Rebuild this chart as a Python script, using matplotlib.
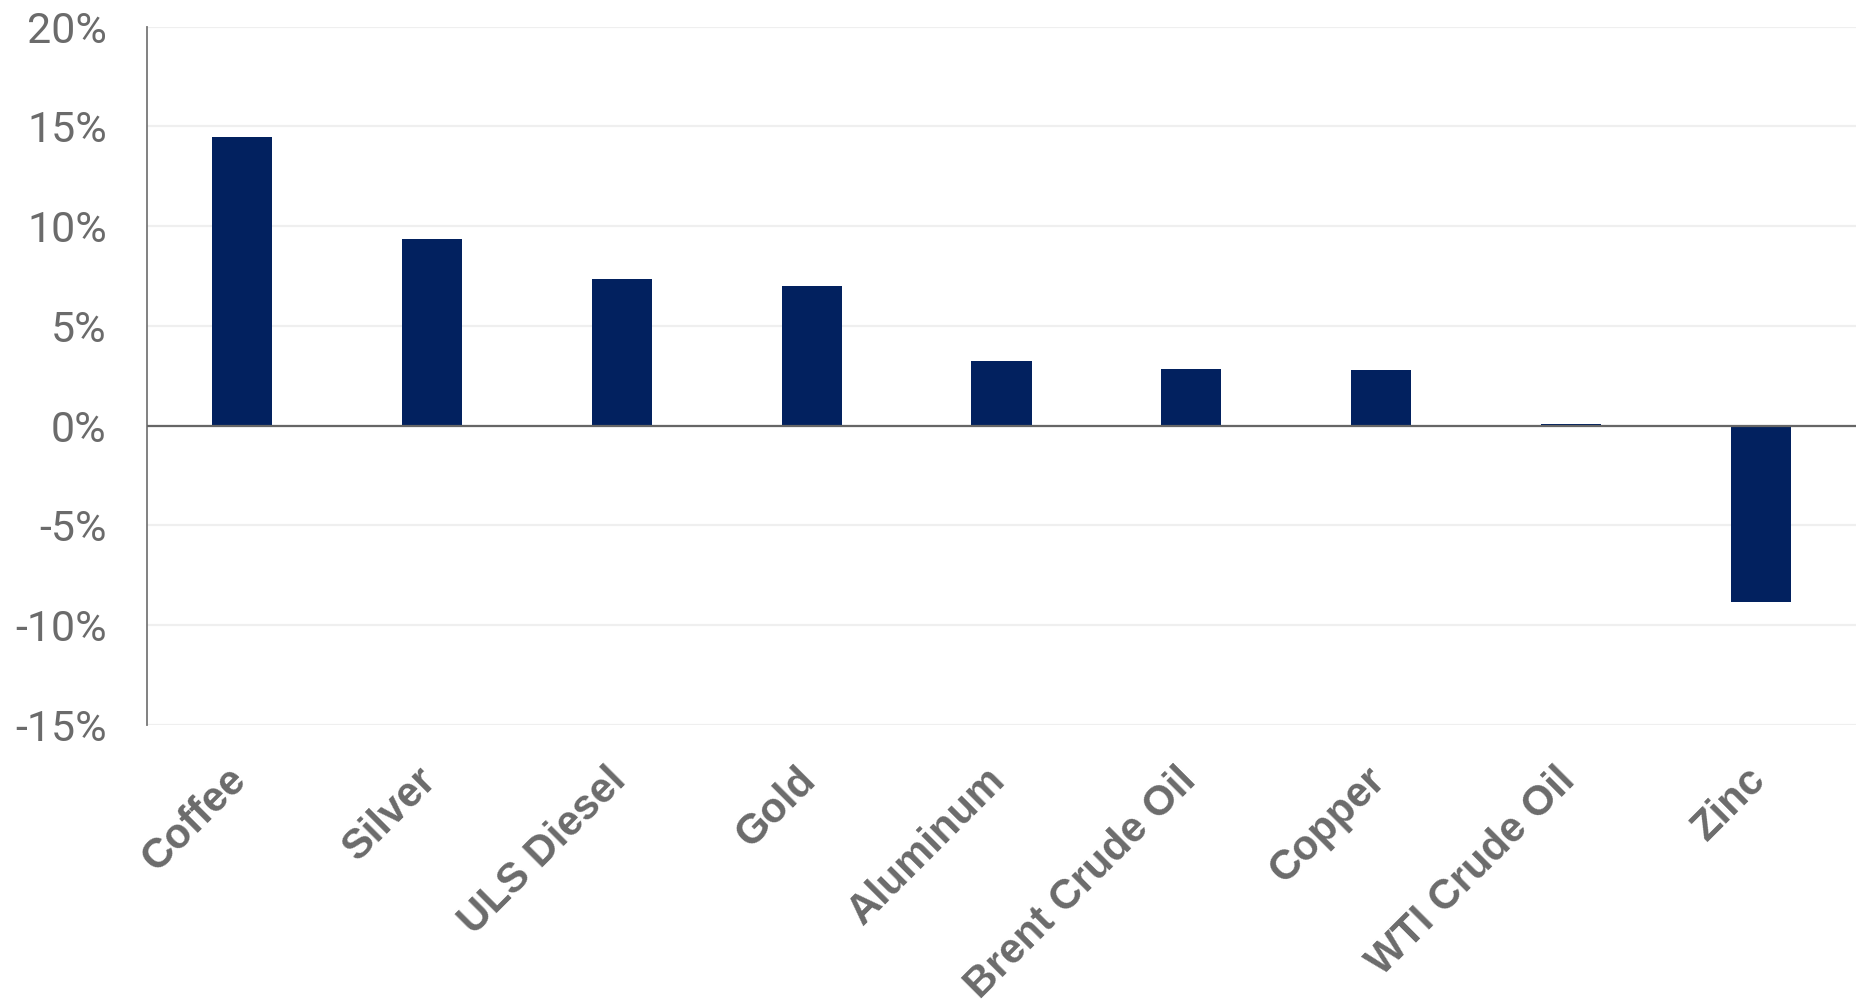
import matplotlib
matplotlib.use("Agg")
import matplotlib.pyplot as plt
from matplotlib.ticker import FuncFormatter
from matplotlib.transforms import ScaledTranslation

categories = ["Coffee", "Silver", "ULS Diesel", "Gold", "Aluminum",
              "Brent Crude Oil", "Copper", "WTI Crude Oil", "Zinc"]
values = [14.45, 9.34, 7.34, 6.99, 3.24, 2.86, 2.79, 0.07, -8.85]
y_ticks = [-15, -10, -5, 0, 5, 10, 15, 20]

W, H = 1864, 1002
fig = plt.figure(figsize=(W / 100, H / 100), dpi=100)
left, right, top, bottom = 147, 1856, 26.7, 725
ax = fig.add_axes([left / W, 1 - bottom / H, (right - left) / W, (bottom - top) / H])

x = list(range(len(categories)))
ax.bar(x, values, width=0.316, color="#02215F", zorder=2)

ax.set_xlim(-0.5, len(categories) - 0.5)
ax.set_ylim(-15, 20)
ax.set_yticks(y_ticks)
ax.yaxis.set_major_formatter(FuncFormatter(lambda v, p: f"{int(v)}%"))
ax.grid(axis="y", color="#efefef", linewidth=1.6, zorder=0)
ax.set_axisbelow(True)
ax.axhline(0, color="#666666", linewidth=1.6, zorder=3)

for s in ["top", "right", "bottom"]:
    ax.spines[s].set_visible(False)
ax.spines["left"].set_color("#777777")
ax.spines["left"].set_linewidth(1.3)

txt_col = "#6b6b6b"
ax.tick_params(axis="y", length=0, pad=29, labelsize=31, labelcolor=txt_col)
for lbl in ax.get_yticklabels():
    lbl.set_fontfamily("Roboto")

ax.set_xticks(x)
ax.set_xticklabels(categories, rotation=45, ha="right", va="top",
                   rotation_mode="anchor", fontsize=30, fontweight="bold",
                   color=txt_col, family="Liberation Sans")
ax.tick_params(axis="x", length=0, pad=28)
shift = ScaledTranslation(-16 / 100, 4 / 100, fig.dpi_scale_trans)
for lbl in ax.get_xticklabels():
    lbl.set_transform(lbl.get_transform() + shift)

fig.savefig("out.png", dpi=100, facecolor="white")
